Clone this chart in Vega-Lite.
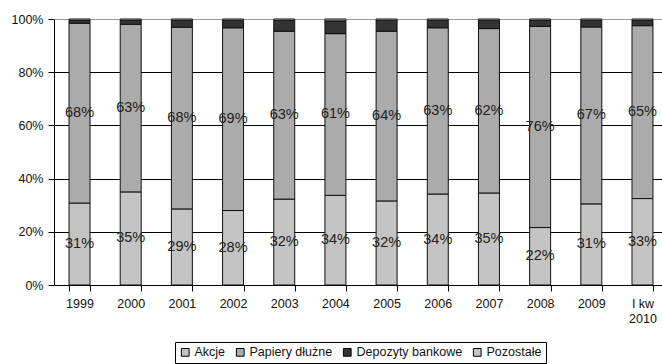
{
  "$schema": "https://vega.github.io/schema/vega-lite/v6.json",
  "autosize": {"type": "none"},
  "width": 608,
  "height": 266,
  "padding": {"left": 54, "top": 19, "right": 0, "bottom": 79},
  "background": "white",
  "config": {
    "view": {"stroke": null},
    "font": "Liberation Sans",
    "axis": {"labelFont": "Liberation Sans", "labelColor": "#111", "domainColor": "#000", "tickColor": "#000"}
  },
  "data": {
    "values": [
      {"rok": "1999", "seria": "Akcje", "udzial": 0.308},
      {"rok": "1999", "seria": "Papiery dłużne", "udzial": 0.676},
      {"rok": "1999", "seria": "Depozyty bankowe", "udzial": 0.011},
      {"rok": "1999", "seria": "Pozostałe", "udzial": 0.005},
      {"rok": "2000", "seria": "Akcje", "udzial": 0.350},
      {"rok": "2000", "seria": "Papiery dłużne", "udzial": 0.630},
      {"rok": "2000", "seria": "Depozyty bankowe", "udzial": 0.015},
      {"rok": "2000", "seria": "Pozostałe", "udzial": 0.005},
      {"rok": "2001", "seria": "Akcje", "udzial": 0.286},
      {"rok": "2001", "seria": "Papiery dłużne", "udzial": 0.683},
      {"rok": "2001", "seria": "Depozyty bankowe", "udzial": 0.026},
      {"rok": "2001", "seria": "Pozostałe", "udzial": 0.005},
      {"rok": "2002", "seria": "Akcje", "udzial": 0.280},
      {"rok": "2002", "seria": "Papiery dłużne", "udzial": 0.687},
      {"rok": "2002", "seria": "Depozyty bankowe", "udzial": 0.028},
      {"rok": "2002", "seria": "Pozostałe", "udzial": 0.005},
      {"rok": "2003", "seria": "Akcje", "udzial": 0.323},
      {"rok": "2003", "seria": "Papiery dłużne", "udzial": 0.631},
      {"rok": "2003", "seria": "Depozyty bankowe", "udzial": 0.041},
      {"rok": "2003", "seria": "Pozostałe", "udzial": 0.005},
      {"rok": "2004", "seria": "Akcje", "udzial": 0.337},
      {"rok": "2004", "seria": "Papiery dłużne", "udzial": 0.608},
      {"rok": "2004", "seria": "Depozyty bankowe", "udzial": 0.048},
      {"rok": "2004", "seria": "Pozostałe", "udzial": 0.007},
      {"rok": "2005", "seria": "Akcje", "udzial": 0.316},
      {"rok": "2005", "seria": "Papiery dłużne", "udzial": 0.638},
      {"rok": "2005", "seria": "Depozyty bankowe", "udzial": 0.041},
      {"rok": "2005", "seria": "Pozostałe", "udzial": 0.005},
      {"rok": "2006", "seria": "Akcje", "udzial": 0.342},
      {"rok": "2006", "seria": "Papiery dłużne", "udzial": 0.625},
      {"rok": "2006", "seria": "Depozyty bankowe", "udzial": 0.028},
      {"rok": "2006", "seria": "Pozostałe", "udzial": 0.005},
      {"rok": "2007", "seria": "Akcje", "udzial": 0.346},
      {"rok": "2007", "seria": "Papiery dłużne", "udzial": 0.618},
      {"rok": "2007", "seria": "Depozyty bankowe", "udzial": 0.031},
      {"rok": "2007", "seria": "Pozostałe", "udzial": 0.005},
      {"rok": "2008", "seria": "Akcje", "udzial": 0.216},
      {"rok": "2008", "seria": "Papiery dłużne", "udzial": 0.756},
      {"rok": "2008", "seria": "Depozyty bankowe", "udzial": 0.023},
      {"rok": "2008", "seria": "Pozostałe", "udzial": 0.005},
      {"rok": "2009", "seria": "Akcje", "udzial": 0.305},
      {"rok": "2009", "seria": "Papiery dłużne", "udzial": 0.665},
      {"rok": "2009", "seria": "Depozyty bankowe", "udzial": 0.025},
      {"rok": "2009", "seria": "Pozostałe", "udzial": 0.005},
      {"rok": "I kw 2010", "seria": "Akcje", "udzial": 0.325},
      {"rok": "I kw 2010", "seria": "Papiery dłużne", "udzial": 0.650},
      {"rok": "I kw 2010", "seria": "Depozyty bankowe", "udzial": 0.020},
      {"rok": "I kw 2010", "seria": "Pozostałe", "udzial": 0.005}
    ]
  },
  "transform": [
    {"calculate": "indexof(['Akcje','Papiery dłużne','Depozyty bankowe','Pozostałe'], datum.seria)", "as": "ord"},
    {"stack": "udzial", "groupby": ["rok"], "sort": [{"field": "ord", "order": "ascending"}], "as": ["y0", "y1"]},
    {"calculate": "(datum.y0 + datum.y1) / 2", "as": "ymid"}
  ],
  "encoding": {
    "x": {
      "field": "rok",
      "type": "nominal",
      "sort": null,
      "scale": {"paddingInner": 0.59, "paddingOuter": 0.235, "align": 0.625},
      "axis": {
        "title": null,
        "labelAngle": 0,
        "labelFontSize": 12.5,
        "labelPadding": 6,
        "tickSize": 6,
        "tickBand": "extent",
        "labelLineHeight": 15,
        "labelExpr": "datum.value == 'I kw 2010' ? ['I kw', '2010'] : datum.value"
      }
    }
  },
  "layer": [
    {
      "mark": {"type": "bar", "stroke": "#111", "strokeWidth": 1},
      "encoding": {
        "y": {
          "field": "y0",
          "type": "quantitative",
          "scale": {"domain": [0, 1], "nice": false},
          "axis": {
            "title": null,
            "values": [0, 0.2, 0.4, 0.6, 0.8, 1],
            "format": ".0%",
            "labelFontSize": 12.5,
            "labelPadding": 5,
            "tickSize": 6,
            "grid": true,
            "gridColor": {"condition": {"test": "datum.value == 1", "value": "#999999"}, "value": "#000000"},
            "gridOpacity": 1,
            "gridWidth": 1
          }
        },
        "y2": {"field": "y1"},
        "color": {
          "field": "seria",
          "type": "nominal",
          "sort": ["Akcje", "Papiery dłużne", "Depozyty bankowe", "Pozostałe"],
          "scale": {
            "domain": ["Akcje", "Papiery dłużne", "Depozyty bankowe", "Pozostałe"],
            "range": ["#c4c4c4", "#ababab", "#333333", "#c4c4c4"]
          },
          "legend": {
            "title": null,
            "orient": "none",
            "direction": "horizontal",
            "legendX": 121,
            "legendY": 323,
            "padding": 4,
            "strokeColor": "#000",
            "symbolType": "square",
            "symbolSize": 60,
            "symbolStrokeColor": "#000",
            "symbolStrokeWidth": 1,
            "symbolOpacity": 1,
            "labelFontSize": 12.5,
            "labelFont": "Liberation Sans",
            "labelColor": "#111",
            "labelOffset": 3,
            "columnPadding": 8
          }
        }
      }
    },
    {
      "transform": [{"filter": "datum.ord < 2"}],
      "mark": {"type": "text", "fontSize": 14.5, "color": "#222", "baseline": "middle", "font": "Liberation Sans"},
      "encoding": {
        "y": {"field": "ymid", "type": "quantitative"},
        "text": {"field": "udzial", "type": "quantitative", "format": ".0%"}
      }
    }
  ]
}
